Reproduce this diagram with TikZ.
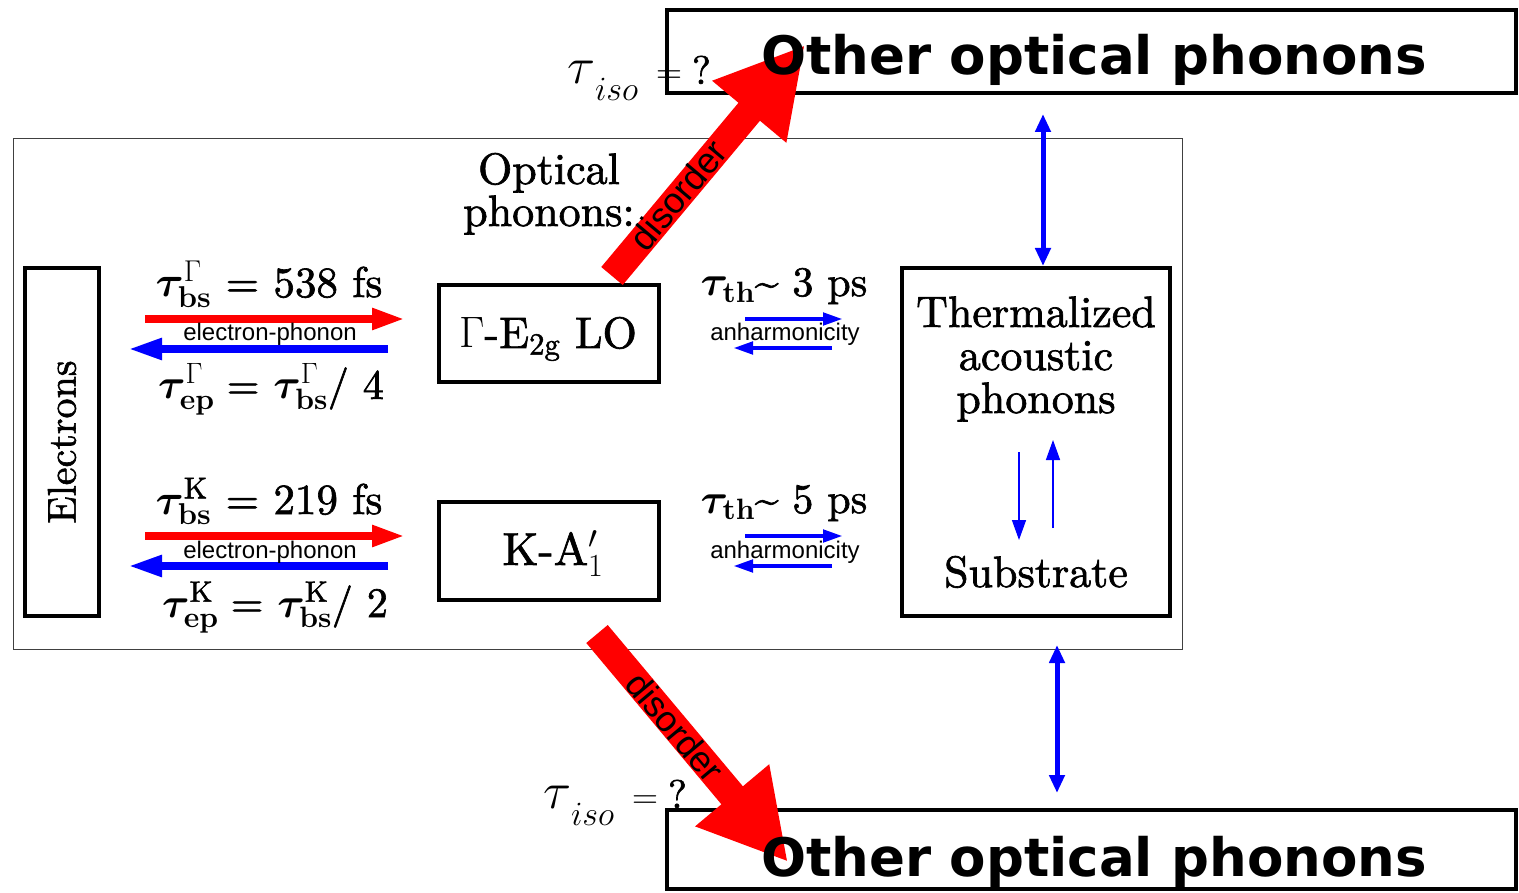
\RequirePackage{fix-cm}
\documentclass[tikz,border=0pt]{standalone}
\usepackage{amsmath,bm}
\usepackage{fontspec}
\setmainfont{lmroman10-regular}[Extension=.otf, UprightFeatures={FakeBold=1.5}, BoldFont=lmroman10-bold, ItalicFont=lmroman10-italic, BoldItalicFont=lmroman10-bolditalic]
\newfontfamily\dvbold{DejaVu Sans Bold}
\newfontfamily\lsans{Liberation Sans}
\usetikzlibrary{arrows.meta}
\newcommand\fsz[1]{\fontsize{#1}{#1}\selectfont}
\begin{document}
\begin{tikzpicture}[x=1pt,y=-1pt,
  thickbox/.style={draw=black, line width=4pt, inner sep=0pt, outer sep=0pt},
  lbl/.style={inner sep=0pt, font=\fsz{44}},
  smalllbl/.style={inner sep=0pt, font=\lsans\fsz{24}},
  redarr/.style={draw=red, line width=8pt, -{Triangle[length=33pt,width=20pt]}},
  bluearr/.style={draw=blue, line width=8pt, -{Triangle[length=34pt,width=20pt]}},
  anharr/.style={draw=blue, line width=4.5pt, -{Triangle[length=20pt,width=12pt]}},
  dblarr/.style={draw=blue, line width=5pt, {Triangle[length=18pt,width=15pt]}-{Triangle[length=18pt,width=15pt]}},
  thinarr/.style={draw=blue, line width=1.5pt, -{Triangle[length=20pt,width=14pt]}},
  disarr/.style={draw=red, line width=28pt, -{Triangle[length=87pt,width=90pt]}},
  distxt/.style={inner sep=0pt, font=\lsans\fsz{36}},
  bigsans/.style={inner sep=0pt, font=\dvbold\fsz{53}, anchor=base},
  isolbl/.style={inner sep=0pt, anchor=base west},
]
\useasboundingbox[fill=white] (0,0) rectangle (1519,893);

% boxes
\node[draw=black!75, line width=1pt, inner sep=0pt, minimum width=1169pt, minimum height=510pt] (frame) at (597.5,394) {};
\node[thickbox, minimum width=849pt, minimum height=83pt] (topbox) at (1091.5,51.5) {};
\node[thickbox, minimum width=849pt, minimum height=79pt] (botbox) at (1091.5,849.5) {};
\node[thickbox, minimum width=74pt, minimum height=348pt] (elec) at (62,442) {};
\node[thickbox, minimum width=220pt, minimum height=97pt] (gam) at (549,333.5) {};
\node[thickbox, minimum width=220pt, minimum height=98pt] (kay) at (549,551) {};
\node[thickbox, minimum width=268pt, minimum height=348pt] (therm) at (1036,442) {};

% disorder arrows
\coordinate (d1s) at (612,276); \coordinate (d1e) at (805,45);
\coordinate (d2s) at (597,634); \coordinate (d2e) at (788,862);
\draw[disarr] (d1s) -- (d1e);
\draw[disarr] (d2s) -- (d2e);

% horizontal arrows
\coordinate (r1a) at (145,319); \coordinate (r1b) at (405,319);
\coordinate (b1a) at (388,349); \coordinate (b1b) at (128,349);
\coordinate (r2a) at (145,536); \coordinate (r2b) at (405,536);
\coordinate (b2a) at (388,566); \coordinate (b2b) at (128,566);
\draw[redarr] (r1a) -- (r1b);
\draw[bluearr] (b1a) -- (b1b);
\draw[redarr] (r2a) -- (r2b);
\draw[bluearr] (b2a) -- (b2b);

\coordinate (a1a) at (745,319); \coordinate (a1b) at (843,319);
\coordinate (a2a) at (832,348); \coordinate (a2b) at (733,348);
\coordinate (a3a) at (745,536); \coordinate (a3b) at (843,536);
\coordinate (a4a) at (832,566); \coordinate (a4b) at (733,566);
\draw[anharr] (a1a) -- (a1b);
\draw[anharr] (a2a) -- (a2b);
\draw[anharr] (a3a) -- (a3b);
\draw[anharr] (a4a) -- (a4b);

% vertical arrows
\coordinate (v1a) at (1043,114); \coordinate (v1b) at (1043,266);
\coordinate (v2a) at (1057,645); \coordinate (v2b) at (1057,793);
\draw[dblarr] (v1a) -- (v1b);
\draw[dblarr] (v2a) -- (v2b);
\coordinate (s1a) at (1019,452); \coordinate (s1b) at (1019,540);
\coordinate (s2a) at (1053,528); \coordinate (s2b) at (1053,440);
\draw[thinarr] (s1a) -- (s1b);
\draw[thinarr] (s2a) -- (s2b);

% texts
\node[bigsans] (toptxt) at (1094,75) {Other optical phonons};
\node[bigsans] (bottxt) at (1094,876) {Other optical phonons};
\node[isolbl] (iso1) at (567,84) {{\fsz{52}$\tau$}\raisebox{-17pt}{\fsz{34}$iso$}\hspace{18pt}{\fsz{36}$=$}\hspace{10pt}{\fsz{40}?}};
\node[isolbl] (iso2) at (543,808) {{\fsz{52}$\tau$}\raisebox{-17pt}{\fsz{34}$iso$}\hspace{18pt}{\fsz{36}$=$}\hspace{10pt}{\fsz{40}?}};

\node[lbl, anchor=base] (opt1) at (549,184) {Optical};
\node[lbl, anchor=base] (opt2) at (549,226) {phonons:};

\node[lbl, font=\fsz{43}, anchor=base] (bsG) at (269,297) {$\bm{\tau}^{\Gamma}_{\mathbf{bs}}$ = 538 fs};
\node[lbl, font=\fsz{42}, anchor=base] (epG) at (271,399) {$\bm{\tau}^{\Gamma}_{\mathbf{ep}}$\kern-2pt\ = $\bm{\tau}^{\Gamma}_{\mathbf{bs}}$/ 4};
\node[lbl, font=\fsz{43}, anchor=base] (bsK) at (269,514) {$\bm{\tau}^{\mathrm{K}}_{\mathbf{bs}}$ = 219 fs};
\node[lbl, font=\fsz{42}, anchor=base] (epK) at (275,617) {$\bm{\tau}^{\mathrm{K}}_{\mathbf{ep}}$\kern-2pt\ = $\bm{\tau}^{\mathrm{K}}_{\mathbf{bs}}$/ 2};

\node[smalllbl, anchor=base] (ep1) at (270,341) {electron-phonon};
\node[smalllbl, anchor=base] (ep2) at (270,558) {electron-phonon};
\node[smalllbl, anchor=base] (an1) at (785,341) {anharmonicity};
\node[smalllbl, anchor=base] (an2) at (785,558) {anharmonicity};

\node[lbl, font=\fsz{42}, anchor=base] (th1) at (784,296) {$\bm{\tau}_{\mathbf{th}}$\textasciitilde\ 3 ps};
\node[lbl, font=\fsz{42}, anchor=base] (th2) at (784,513) {$\bm{\tau}_{\mathbf{th}}$\textasciitilde\ 5 ps};

\node[lbl, anchor=base] (gtxt) at (548,348) {$\Gamma$-E$_{\mathrm{2g}}$ LO};
\node[lbl, font=\fsz{46}, anchor=base] (ktxt) at (553,565) {K-A$'_{1}$};

\node[inner sep=0pt, font=\fsz{40}, rotate=90] (etxt) at (62,442) {Electrons};

\node[lbl, anchor=base] (t1) at (1036,327) {Thermalized};
\node[lbl, anchor=base] (t2) at (1036,370) {acoustic};
\node[lbl, anchor=base] (t3) at (1036,413) {phonons};
\node[lbl, anchor=base] (t4) at (1036,587) {Substrate};

\node[distxt, rotate=50] (dis1) at (678,195) {disorder};
\node[distxt, rotate=-50] (dis2) at (675,727) {disorder};
\end{tikzpicture}
\end{document}
